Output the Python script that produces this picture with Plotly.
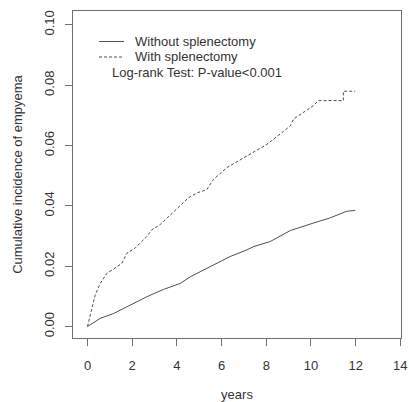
import plotly.graph_objects as go

# Cumulative incidence
years_without = [0, 0.57, 1.16, 1.91, 2.66, 3.4, 4.15, 4.6, 5.49, 5.64, 6.38, 7.13, 7.43,
                 8.18, 8.32, 9.07, 10.11, 10.85, 11.6, 11.98]
inc_without = [0, 0.0027, 0.0043, 0.0071, 0.0099, 0.0123, 0.0143, 0.0165, 0.0199, 0.0204,
               0.0232, 0.0254, 0.0265, 0.0282, 0.0288, 0.0318, 0.0343, 0.036, 0.0382, 0.0385]

years_with = [0, 0.2, 0.34, 0.57, 0.87, 1.16, 1.54, 1.76, 2.13, 2.66, 2.88, 3.25, 3.62,
              4.15, 4.52, 4.9, 5.34, 5.64, 6.24, 7.13, 8.03, 8.62, 9.07, 9.22, 9.66,
              10.11, 10.33, 11.45, 11.45, 11.98]
inc_with = [0, 0.0065, 0.0104, 0.0143, 0.0177, 0.019, 0.021, 0.0243, 0.026, 0.0299,
            0.0321, 0.0338, 0.0365, 0.0401, 0.0427, 0.0443, 0.0454, 0.0488, 0.0527,
            0.0565, 0.0604, 0.0638, 0.0665, 0.0688, 0.071, 0.0732, 0.0749, 0.0749,
            0.078, 0.078]

x_ticks = [0, 2, 4, 6, 8, 10, 12, 14]
y_ticks = [0.00, 0.02, 0.04, 0.06, 0.08, 0.10]
y_tick_labels = ["0.00", "0.02", "0.04", "0.06", "0.08", "0.10"]

legend_labels = ["Without splenectomy", "With splenectomy"]
test_text = "Log-rank Test: P-value<0.001"

FONT = "Liberation Sans, Arial, sans-serif"
LINE = "#505050"
AXIS = "#707070"
TEXT = "#333333"

fig = go.Figure()
fig.add_trace(go.Scatter(x=years_without, y=inc_without, mode="lines",
                         line=dict(color=LINE, width=1), name=legend_labels[0],
                         showlegend=False))
fig.add_trace(go.Scatter(x=years_with, y=inc_with, mode="lines",
                         line=dict(color=LINE, width=1, dash="3px,2px"),
                         name=legend_labels[1], showlegend=False))

W, H = 409, 402
L, R, T, B = 73, 401, 11, 338

def px(xp):
    return (xp - L) / (R - L)

def py(yp):
    return (B - yp) / (B - T)

legend_rows = [41.5, 57]
for i, (lab, yy) in enumerate(zip(legend_labels, legend_rows)):
    fig.add_shape(type="line", xref="paper", yref="paper",
                  x0=px(99), x1=px(124), y0=py(yy), y1=py(yy),
                  line=dict(color=LINE, width=1, dash="solid" if i == 0 else "3px,2px"))
    fig.add_annotation(xref="paper", yref="paper", x=px(133), y=py(yy),
                       text=lab, showarrow=False, xanchor="left", yanchor="middle",
                       font=dict(family=FONT, size=13, color=TEXT))
fig.add_annotation(xref="paper", yref="paper", x=px(110), y=py(72.5),
                   text=test_text, showarrow=False, xanchor="left", yanchor="middle",
                   font=dict(family=FONT, size=13, color=TEXT))

fig.update_layout(
    width=W, height=H,
    margin=dict(l=L, r=W - R, t=T, b=H - B, autoexpand=False),
    paper_bgcolor="white", plot_bgcolor="white",
    font=dict(family=FONT, size=13, color=TEXT),
    showlegend=False,
)
fig.update_xaxes(range=[-0.65, 14.03], tickvals=x_ticks, ticks="outside", ticklen=7,
                 tickcolor=AXIS, showline=True, linecolor=AXIS, linewidth=1, mirror=True,
                 showgrid=False, zeroline=False, ticklabelstandoff=8, automargin=False,
                 tickfont=dict(family=FONT, size=13, color=TEXT),
                 title=dict(text="years", standoff=20,
                            font=dict(family=FONT, size=13, color=TEXT)))
fig.update_yaxes(range=[-0.0038, 0.1046], tickvals=y_ticks, ticktext=y_tick_labels,
                 tickangle=-90, ticks="outside", ticklen=7,
                 tickcolor=AXIS, showline=True, linecolor=AXIS, linewidth=1, mirror=True,
                 showgrid=False, zeroline=False, ticklabelstandoff=6, automargin=False,
                 tickfont=dict(family=FONT, size=13, color=TEXT),
                 title=dict(text="Cumulative incidence of empyema", standoff=16,
                            font=dict(family=FONT, size=13, color=TEXT)))

fig.write_html("out.html", config={"displayModeBar": False},
               post_script="document.body.style.margin='0';document.body.style.overflow='hidden';")
